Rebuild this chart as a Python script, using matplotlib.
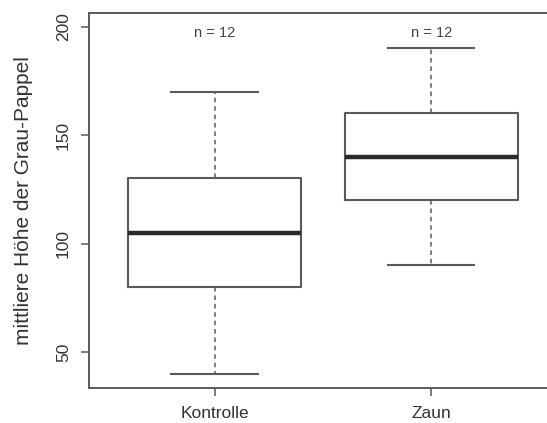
import numpy as np
import matplotlib
matplotlib.use("Agg")
import matplotlib.pyplot as plt

plt.rcParams['font.family'] = ['Liberation Sans', 'DejaVu Sans']

groups = ["Kontrolle", "Zaun"]
whislo = [40, 90]
q1 = [80, 120]
med = [105, 140]
q3 = [130, 160]
whishi = [170, 190]
n_obs = [12, 12]
yticks = [50, 100, 150, 200]

W, H = 547, 423
fig = plt.figure(figsize=(W / 100, H / 100), dpi=100)
# axes runs a bit past the right edge, like the cropped original
ax = fig.add_axes([88.9 / W, 1 - 387.7 / H, (556.8 - 88.9) / W, (387.7 - 12.7) / H])

stats = []
for i, g in enumerate(groups):
    stats.append(dict(label=g, whislo=whislo[i], q1=q1[i], med=med[i],
                      q3=q3[i], whishi=whishi[i], fliers=[]))

linecol = "#5a5a5a"
ax.bxp(stats, positions=[1, 2], widths=0.8, showfliers=False,
       boxprops=dict(color=linecol, linewidth=1.5),
       whiskerprops=dict(color=linecol, linewidth=1.1, linestyle=(0, (3, 2.5))),
       capprops=dict(color=linecol, linewidth=1.5),
       medianprops=dict(color="#2a2a2a", linewidth=3.2),
       capwidths=0.4)

for i, n in enumerate(n_obs):
    ax.text(i + 1, 197, "n = %d" % n, ha="center", va="center",
            fontsize=10.5, color="#444444")

ax.set_xlim(0.42, 2.58)
ax.set_ylim(33.6, 206.4)
ax.set_yticks(yticks)
ax.set_yticklabels([str(t) for t in yticks], rotation=90, va="center")
ax.set_xticks([1, 2])
ax.set_xticklabels(groups)

for s in ax.spines.values():
    s.set_color(linecol)
    s.set_linewidth(1.4)
ax.tick_params(axis="both", direction="out", length=6, width=1.1,
               color=linecol, labelcolor="#333333", labelsize=12.5)
ax.tick_params(axis="y", pad=7)
ax.tick_params(axis="x", pad=7)

fig.text(24 / W, 1 - 200.5 / H, "mittliere Höhe der Grau-Pappel",
         rotation=90, ha="center", va="center", fontsize=15, color="#333333")

fig.savefig("out.png", dpi=100)
